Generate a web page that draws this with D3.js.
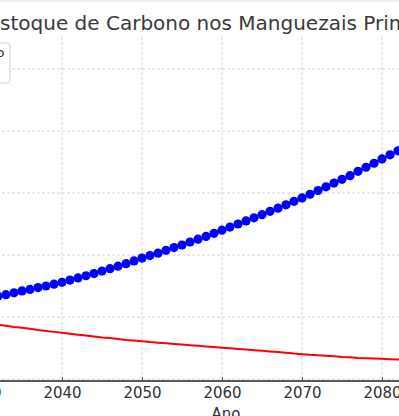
<!DOCTYPE html>
<html>
<head>
<meta charset="utf-8">
<script src="https://cdn.jsdelivr.net/npm/d3@7"></script>
<style>
  body { margin: 0; background: #fff; overflow: hidden; }
  svg { display: block; font-family: "DejaVu Sans", sans-serif; }
</style>
</head>
<body>
<div id="chart"></div>
<script>
var years = d3.range(2030, 2086);
var estoqueConservado = [128, 131, 133.5, 136, 139, 142, 144.5, 147.5, 150, 153,
  156, 159.5, 163, 166.5, 170, 174, 178, 182, 186, 190.5,
  195, 199, 203, 207.5, 212, 216, 221, 225.5, 230, 235,
  240, 245, 250, 255, 260, 265, 270.5, 275.5, 281, 286.5,
  292, 298, 304, 310, 316, 322, 328, 335, 341.5, 348,
  355, 361.5, 368, 375, 382, 389];
var estoqueDegradado = [91, 89, 87.5, 86, 84, 82.5, 81, 79, 77.5, 76,
  74.5, 73, 71.5, 70, 68.5, 67, 66, 64.5, 63, 62,
  61, 59.5, 58.5, 57.5, 56.5, 55.5, 54.5, 53.5, 52.5, 51.5,
  50.5, 49.5, 48.5, 47.5, 46.5, 45.5, 44.5, 43.5, 42.5, 41,
  40, 39, 38.5, 37.5, 36.5, 35.5, 35, 34, 33.5, 33,
  32.5, 32, 31.5, 31, 30.5, 30];
var xTicks = [2030, 2040, 2050, 2060, 2070, 2080];
var yTicks = [0, 100, 200, 300, 400, 500];
var legendLabels = ["Estoque de Carbono", "Emissões"];

var width = 399, height = 416;
var plot = { left: -88, right: 540, top: 37, bottom: 381 };

var svg = d3.select("#chart").append("svg")
  .attr("width", width).attr("height", height);

svg.append("rect").attr("x", 0).attr("y", 0).attr("width", width).attr("height", 2)
  .attr("fill", "#ececec");

var x = d3.scaleLinear().domain([2040, 2080]).range([62, 382]);
var y = d3.scaleLinear().domain([0, 500]).range([379, 69]);

// grid
var grid = svg.append("g").attr("class", "grid");
grid.selectAll("line.v").data(xTicks).enter().append("line")
  .attr("class", "v")
  .attr("x1", function(d) { return x(d); }).attr("x2", function(d) { return x(d); })
  .attr("y1", plot.top).attr("y2", plot.bottom);
grid.selectAll("line.h").data(yTicks).enter().append("line")
  .attr("class", "h")
  .attr("x1", plot.left).attr("x2", plot.right)
  .attr("y1", function(d) { return y(d); }).attr("y2", function(d) { return y(d); });
grid.selectAll("line")
  .attr("stroke", "#d4d4d4").attr("stroke-width", 1).attr("stroke-dasharray", "3,2");

// lines
var blueData = years.map(function(d, i) { return { year: d, v: estoqueConservado[i] }; });
var redData = years.map(function(d, i) { return { year: d, v: estoqueDegradado[i] }; });
var line = d3.line()
  .x(function(d) { return x(d.year); })
  .y(function(d) { return y(d.v); });

svg.append("path").datum(redData).attr("d", line)
  .attr("fill", "none").attr("stroke", "#ff0000").attr("stroke-width", 2);
svg.append("path").datum(blueData).attr("d", line)
  .attr("fill", "none").attr("stroke", "#0000ff").attr("stroke-width", 2);
svg.selectAll("circle.pt").data(blueData).enter().append("circle")
  .attr("class", "pt")
  .attr("cx", function(d) { return x(d.year); })
  .attr("cy", function(d) { return y(d.v); })
  .attr("r", 4.6).attr("fill", "#0000ff");

// x axis
var xAxis = d3.axisBottom(x).tickValues(xTicks).tickFormat(d3.format("d"))
  .tickSize(0).tickPadding(6);
var gx = svg.append("g").attr("transform", "translate(0," + plot.bottom + ")").call(xAxis);
gx.select(".domain").remove();
gx.selectAll("text").attr("font-size", 15).attr("fill", "#333")
  .attr("font-family", "DejaVu Sans, sans-serif");
gx.append("line").attr("x1", plot.left).attr("x2", plot.right)
  .attr("stroke", "#5a5a5a").attr("stroke-width", 2.2);
gx.selectAll(".tick").append("line").attr("y1", -4).attr("y2", 0)
  .attr("stroke", "#5a5a5a").attr("stroke-width", 1);

svg.append("text").attr("x", (plot.left + plot.right) / 2).attr("y", 419)
  .attr("text-anchor", "middle").attr("font-size", 15).attr("fill", "#333")
  .text("Ano");

svg.append("text").attr("x", -12.6).attr("y", 30)
  .attr("font-size", 20).attr("fill", "#3a3a3a")
  .text("Estoque de Carbono nos Manguezais Primários");

// legend
var legend = svg.append("g");
legend.append("rect").attr("x", -170).attr("y", 43).attr("width", 180).attr("height", 40)
  .attr("rx", 3).attr("fill", "#fff").attr("fill-opacity", 0.8)
  .attr("stroke", "#d0d0d0");
legend.selectAll("text").data(legendLabels).enter().append("text")
  .attr("x", -131).attr("y", function(d, i) { return 57 + i * 18; })
  .attr("font-size", 13).attr("fill", "#333")
  .text(function(d) { return d; });
legend.selectAll("text").each(function() {
  var w = this.getComputedTextLength();
  if (this.__data__ === legendLabels[0]) {
    legend.selectAll("text").attr("x", 4.5 - w);
  }
});
</script>
</body>
</html>
